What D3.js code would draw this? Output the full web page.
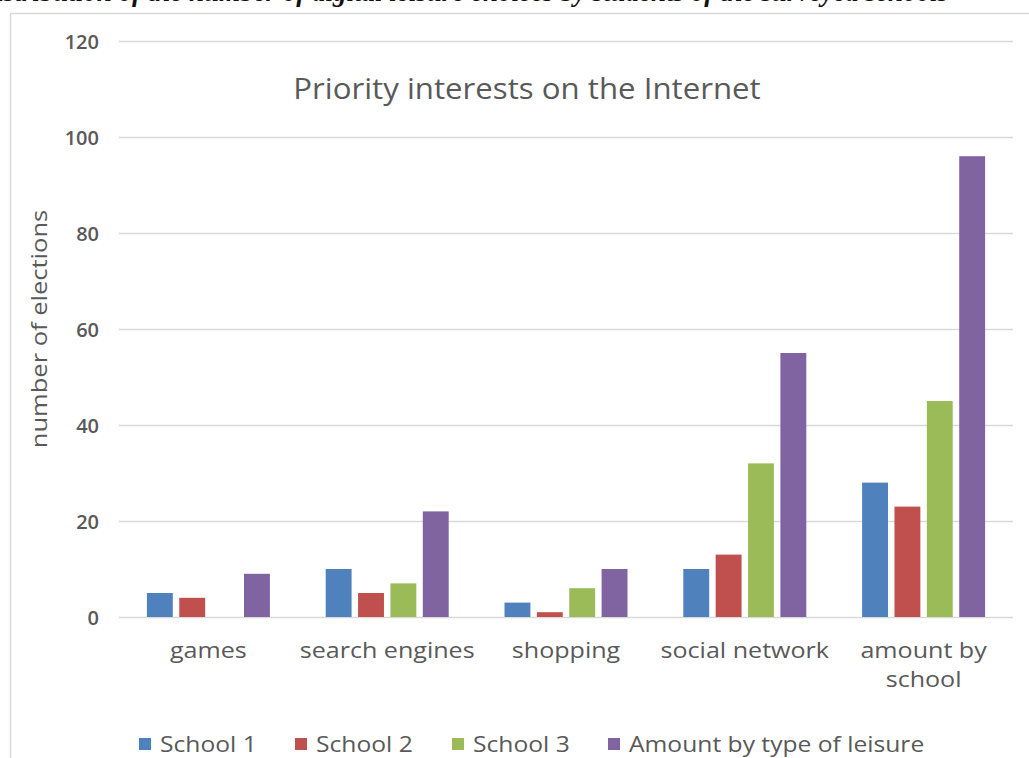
<!DOCTYPE html>
<html>
<head>
<meta charset="utf-8">
<script src="https://cdn.jsdelivr.net/npm/d3@7"></script>
<style>
  html, body { margin: 0; padding: 0; background: #fff; }
  svg { display: block; }
</style>
</head>
<body>
<svg id="chart" width="1029" height="758"></svg>
<script>
// Categories of digital leisure and the series compared
const categories = ["games", "search engines", "shopping", "social network", "amount by school"];
const seriesNames = ["School 1", "School 2", "School 3", "Amount by type of leisure"];
const school1 = [5, 10, 3, 10, 28];
const school2 = [4, 5, 1, 13, 23];
const school3 = [0, 7, 6, 32, 45];
const amountByType = [9, 22, 10, 55, 96];
const yTicks = [0, 20, 40, 60, 80, 100, 120];
const colors = ["#4f81bd", "#c0504d", "#9bbb59", "#8064a2"];

const seriesValues = [school1, school2, school3, amountByType];
const rows = categories.map((c, i) => ({
  category: c,
  values: seriesValues.map((arr, s) => ({ key: seriesNames[s], value: arr[i], s }))
}));

const svg = d3.select("#chart");
const font = "'Open Sans', 'Noto Sans', sans-serif";
const textColor = "#595959";

// Caption above the chart frame
svg.append("text")
  .attr("x", 948).attr("y", 1)
  .attr("text-anchor", "end")
  .attr("font-family", "'Liberation Serif', serif")
  .attr("font-style", "italic")
  .attr("font-weight", "bold")
  .attr("font-size", 27)
  .attr("fill", "#111")
  .text("Distribution of the number of digital leisure choices by students of the surveyed schools");

// Chart frame
svg.append("path")
  .attr("d", "M10.5,758 V13.5 H1029")
  .attr("fill", "none")
  .attr("stroke", "#d9d9d9")
  .attr("stroke-width", 1.5);

const plot = { left: 119, right: 1013, top: 41, bottom: 617 };

const x0 = d3.scaleBand()
  .domain(categories)
  .range([plot.left, plot.right])
  .paddingInner(0)
  .paddingOuter(0);

const groupWidth = 123;
const x1 = d3.scaleBand()
  .domain(seriesNames)
  .range([0, groupWidth])
  .paddingInner(0.2)
  .paddingOuter(0);

const y = d3.scaleLinear().domain([0, 120]).range([plot.bottom, plot.top]);

// Gridlines
svg.append("g")
  .selectAll("line")
  .data(yTicks)
  .join("line")
  .attr("x1", plot.left).attr("x2", plot.right)
  .attr("y1", d => Math.round(y(d)) + 0.5).attr("y2", d => Math.round(y(d)) + 0.5)
  .attr("stroke", "#d9d9d9")
  .attr("stroke-width", 1.5);

// Y axis tick labels
const yAxis = d3.axisLeft(y).tickValues(yTicks).tickSize(0).tickPadding(0);
const yg = svg.append("g").attr("transform", `translate(99,0)`).call(yAxis);
yg.select(".domain").remove();
yg.selectAll("text")
  .attr("font-family", font)
  .attr("font-size", 20)
  .attr("font-weight", 600)
  .attr("fill", textColor)
  .attr("dy", "0.35em");

// Y axis title
svg.append("text")
  .attr("transform", "translate(47,329) rotate(-90) scale(1.16,1)")
  .attr("text-anchor", "middle")
  .attr("font-family", font)
  .attr("font-size", 22)
  .attr("fill", textColor)
  .text("number of elections");

// Chart title
svg.append("text")
  .attr("transform", "translate(527,99) scale(1.076,1)")
  .attr("text-anchor", "middle")
  .attr("font-family", font)
  .attr("font-size", 29)
  .attr("fill", textColor)
  .text("Priority interests on the Internet");

// Bars
const groups = svg.append("g")
  .selectAll("g")
  .data(rows)
  .join("g")
  .attr("transform", d => `translate(${x0(d.category) + (x0.bandwidth() - groupWidth) / 2},0)`);

groups.selectAll("rect")
  .data(d => d.values)
  .join("rect")
  .attr("x", d => x1(d.key))
  .attr("width", x1.bandwidth())
  .attr("y", d => y(d.value))
  .attr("height", d => y(0) - y(d.value))
  .attr("fill", d => colors[d.s]);

// Category labels
const xAxis = d3.axisBottom(x0).tickSize(0).tickPadding(0);
const xg = svg.append("g").attr("transform", `translate(0,${plot.bottom})`).call(xAxis);
xg.select(".domain").remove();
xg.selectAll("text")
  .attr("font-family", font)
  .attr("font-size", 22)
  .attr("fill", textColor)
  .attr("dy", null)
  .attr("y", 0)
  .attr("transform", "translate(0,41) scale(1.14,1)")
  .each(function(d) {
    const t = d3.select(this);
    if (d === "amount by school") {
      t.text(null);
      t.append("tspan").attr("x", 0).attr("y", 0).text("amount by");
      t.append("tspan").attr("x", 0).attr("y", 29).text("school");
    }
  });

// Legend
const legendX = [139, 295, 452, 608];
const legend = svg.append("g")
  .selectAll("g")
  .data(seriesNames)
  .join("g")
  .attr("transform", (d, i) => `translate(${legendX[i]},744)`);
legend.append("rect")
  .attr("x", 0).attr("y", -6)
  .attr("width", 12).attr("height", 12)
  .attr("fill", (d, i) => colors[i]);
legend.append("text")
  .attr("transform", "translate(21,0) scale(1.12,1)")
  .attr("dy", "0.35em")
  .attr("font-family", font)
  .attr("font-size", 22)
  .attr("fill", textColor)
  .text(d => d);
</script>
</body>
</html>
